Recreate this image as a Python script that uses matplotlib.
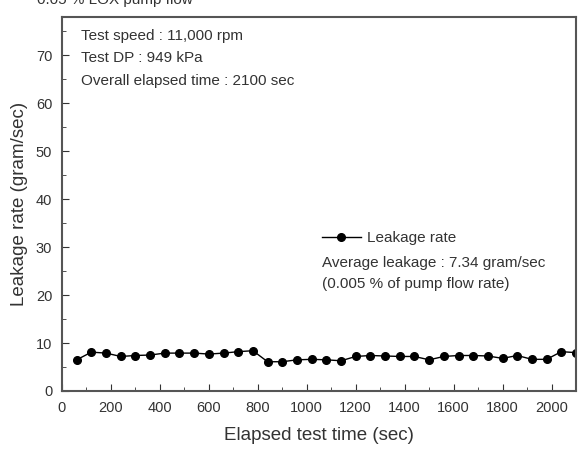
import matplotlib
matplotlib.use('Agg')
import matplotlib.pyplot as plt
from matplotlib.ticker import MultipleLocator

# === DADOS ===
tempo = list(range(60, 2101, 60))
vazamento = [6.5, 8.1, 7.9, 7.2, 7.4, 7.5, 7.9, 7.9, 7.9, 7.7, 7.9, 8.2,
             8.4, 6.1, 6.1, 6.5, 6.6, 6.5, 6.3, 7.2, 7.4, 7.3, 7.2, 7.2,
             6.5, 7.2, 7.4, 7.4, 7.3, 6.8, 7.4, 6.6, 6.6, 8.2, 8.0]

info_teste = ["Test speed : 11,000 rpm",
              "Test DP : 949 kPa",
              "Overall elapsed time : 2100 sec"]
info_media = ["Average leakage : 7.34 gram/sec",
              "(0.005 % of pump flow rate)"]

COR = '#333333'
plt.rcParams['font.family'] = ['Liberation Sans', 'DejaVu Sans']

fig = plt.figure(figsize=(5.81, 4.54), dpi=100)
ax = fig.add_axes([0.1067, 0.1388, 0.8847, 0.8238])

ax.plot(tempo, vazamento, color='black', lw=1.0, marker='o', ms=5.5,
        label='Leakage rate')

ax.set_xlim(0, 2100)
ax.set_ylim(0, 78)
ax.xaxis.set_major_locator(MultipleLocator(200))
ax.xaxis.set_minor_locator(MultipleLocator(100))
ax.yaxis.set_major_locator(MultipleLocator(10))
ax.yaxis.set_minor_locator(MultipleLocator(5))
ax.tick_params(which='both', direction='in', labelsize=10.5, colors=COR)
ax.tick_params(which='major', length=5)
ax.tick_params(which='minor', length=3)
ax.tick_params(axis='x', pad=7)
ax.tick_params(axis='y', pad=7)
for s in ax.spines.values():
    s.set_color('#555555')
    s.set_linewidth(1.5)

ax.set_xlabel("Elapsed test time (sec)", fontsize=13.5, color=COR, labelpad=9)
ax.set_ylabel("Leakage rate (gram/sec)", fontsize=13.5, color=COR, labelpad=6)

for i, t in enumerate(info_teste):
    ax.text(0.037, 0.949 - i * 0.06, t, transform=ax.transAxes,
            fontsize=11, color=COR, va='center')

leg = ax.legend(loc='center left', bbox_to_anchor=(0.505, 0.408), frameon=False,
                fontsize=11, handlelength=2.6, handletextpad=0.4,
                borderaxespad=0, borderpad=0)
for t in leg.get_texts():
    t.set_color(COR)
for i, t in enumerate(info_media):
    ax.text(0.505, 0.342 - i * 0.057, t, transform=ax.transAxes,
            fontsize=11, color=COR, va='center')

# titulo cortado no topo, como no original
fig.text(0.064, 0.991, "0.05 % LOX pump flow", fontsize=11, color=COR,
         va='baseline')

fig.savefig('out.png', dpi=100)
